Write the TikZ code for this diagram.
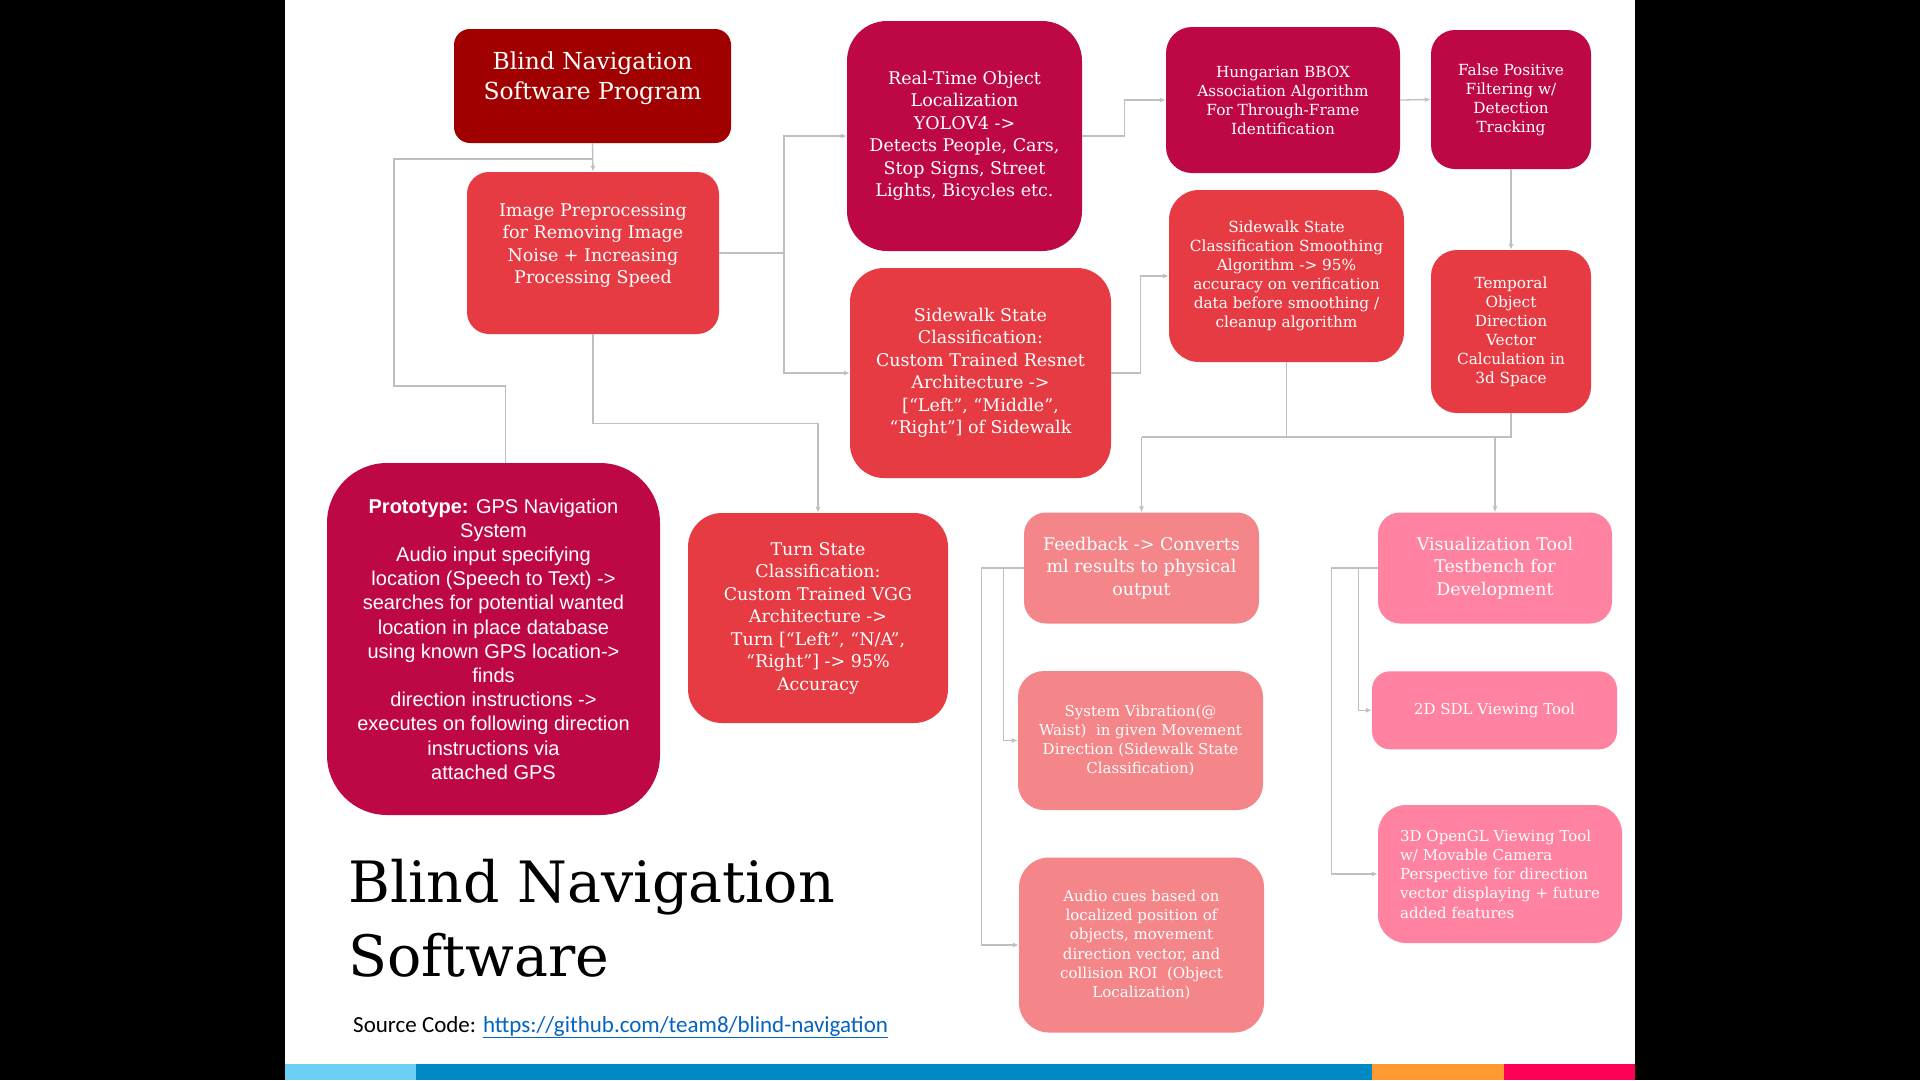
\documentclass[tikz,border=0pt]{standalone}
\usepackage{fontspec}
\setmainfont{DejaVu Serif}
\newfontfamily\protofont{Liberation Sans}
\newfontfamily\codefont{Carlito}
\usetikzlibrary{arrows.meta}

\definecolor{progred}{RGB}{160,0,0}
\definecolor{crimson}{RGB}{190,8,70}
\definecolor{boxred}{RGB}{231,59,67}
\definecolor{salmon}{RGB}{244,133,137}
\definecolor{rosepink}{RGB}{255,130,160}
\definecolor{linkblue}{RGB}{5,99,193}
\definecolor{barlight}{RGB}{109,207,246}
\definecolor{barblue}{RGB}{0,136,194}
\definecolor{barorange}{RGB}{255,153,51}
\definecolor{barred}{RGB}{255,0,85}

\begin{document}
\begin{tikzpicture}[x=1pt, y=-1pt,
	blk/.style={text=white, align=center, inner sep=0pt, rounded corners=#1},
	blk/.default=22pt,
	fbig/.style={font=\fontsize{17.5}{22.5}\selectfont},
	fmid/.style={font=\fontsize{15.3}{19}\selectfont},
	fsml/.style={font=\fontsize{15}{19.2}\selectfont},
	conn/.style={draw=gray!50, line width=1.3pt},
	arr/.style={conn, -{Latex[length=6pt,width=5pt]}}]
	\useasboundingbox (0,0) rectangle (1920,1080);
	\fill[black] (0,0) rectangle (1920,1080);
	\fill[white] (285,0) rectangle (1635,1064);
	\fill[barlight] (285,1064) rectangle (416,1080);
	\fill[barblue] (416,1064) rectangle (1372,1080);
	\fill[barorange] (1372,1064) rectangle (1504,1080);
	\fill[barred] (1504,1064) rectangle (1635,1080);

	\node[blk=16pt, fill=progred, font=\fontsize{23.4}{29.5}\selectfont, text depth=21pt, minimum width=277pt, minimum height=114pt] (prog) at (592.5,86) {Blind Navigation\\Software Program};
	\node[blk, fill=boxred, fbig, text depth=19pt, minimum width=252pt, minimum height=162pt] (prep) at (593,253) {Image Preprocessing\\for Removing Image\\Noise + Increasing\\Processing Speed};
	\node[blk=40pt, fill=crimson, fbig, minimum width=235pt, minimum height=230pt] (rto) at (964.5,136) {Real-Time Object\\Localization\\YOLOV4 ->\\Detects People, Cars,\\Stop Signs, Street\\Lights, Bicycles etc.};
	\node[blk=34pt, fill=boxred, fbig, minimum width=261pt, minimum height=210pt] (swc) at (980.5,373) {Sidewalk State\\Classification:\\Custom Trained Resnet\\Architecture ->\\{[}“Left”, “Middle”,\\“Right”] of Sidewalk};
	\node[blk=26pt, fill=crimson, fmid, minimum width=234pt, minimum height=146pt] (hung) at (1283,100) {Hungarian BBOX\\Association Algorithm\\For Through-Frame\\Identification};
	\node[blk=24pt, fill=crimson, fmid, minimum width=160pt, minimum height=139pt] (fpf) at (1511,99.5) {False Positive\\Filtering w/\\Detection\\Tracking};
	\node[blk=30pt, fill=boxred, fmid, minimum width=235pt, minimum height=172pt] (smooth) at (1286.5,276) {Sidewalk State\\Classification Smoothing\\Algorithm -> 95\%\\accuracy on verification\\data before smoothing /\\cleanup algorithm};
	\node[blk=26pt, fill=boxred, fmid, minimum width=160pt, minimum height=163pt] (temporal) at (1511,331.5) {Temporal\\Object\\Direction\\Vector\\Calculation in\\3d Space};
	\node[blk=60pt, fill=crimson, font={\protofont\fontsize{20}{24.2}\selectfont}, minimum width=333pt, minimum height=352pt] (proto) at (493.5,639) {\textbf{Prototype:} GPS Navigation\\System\\Audio input specifying\\location (Speech to Text) ->\\searches for potential wanted\\location in place database\\using known GPS location->\\finds\\direction instructions ->\\executes on following direction\\instructions via\\attached GPS};
	\node[blk=34pt, fill=boxred, fbig, minimum width=260pt, minimum height=210pt] (turn) at (818,618) {Turn State\\Classification:\\Custom Trained VGG\\Architecture ->\\Turn [“Left”, “N/A”,\\“Right”] -> 95\%\\Accuracy};
	\node[blk=22pt, fill=salmon, fbig, minimum width=235pt, minimum height=111pt] (feed) at (1141.5,568) {Feedback -> Converts\\ml results to physical\\output};
	\node[blk=22pt, fill=rosepink, fbig, minimum width=234pt, minimum height=111pt] (vis) at (1495,568) {Visualization Tool\\Testbench for\\Development};
	\node[blk=26pt, fill=salmon, fsml, minimum width=245pt, minimum height=139pt] (vib) at (1140.5,740.5) {System Vibration(@\\Waist)~ in given Movement\\Direction (Sidewalk State\\Classification)};
	\node[blk=18pt, fill=rosepink, fsml, minimum width=245pt, minimum height=78pt] (sdl) at (1494.5,710.3) {2D SDL Viewing Tool};
	\node[blk=30pt, fill=salmon, fsml, minimum width=245pt, minimum height=175pt] (audio) at (1141.5,945) {Audio cues based on\\localized position of\\objects, movement\\direction vector, and\\collision ROI~ (Object\\Localization)};
	\node[blk=28pt, fill=rosepink, fsml, align=left, minimum width=244pt, minimum height=138pt] (ogl) at (1500,874) {3D OpenGL Viewing Tool\\w/ Movable Camera\\Perspective for direction\\vector displaying + future\\added features};

	\node[anchor=north west, inner sep=0pt, align=left, font=\fontsize{57}{74}\selectfont] (title) at (348,859) {Blind Navigation\\Software};
	\node[anchor=base west, inner sep=0pt, font={\codefont\fontsize{23}{28}\selectfont}] (src) at (353,1032) {Source Code: \textcolor{linkblue}{\underline{https://github.com/team8/blind-navigation}}};

	\coordinate (j1) at (593,159);
	\coordinate (j2) at (784,253);
	\coordinate (busL) at (1141.5,437);
	\coordinate (busR) at (1511,437);
	\draw[arr] (prog.south) -- (prep.north);
	\draw[conn] (j1) -| (394,386) -| ([xshift=12pt]proto.north);
	\draw[conn] (prep.east) -- (j2);
	\draw[arr] (j2) |- (rto.west);
	\draw[arr] (j2) |- (swc.west);
	\draw[arr] (prep.south) -- ++(0,89) -| (turn.north);
	\draw[arr] (rto.east) -- ++(42,0) |- (hung.west);
	\draw[arr] (hung.east) -- (fpf.west);
	\draw[arr] (fpf.south) -- (temporal.north);
	\draw[arr] (swc.east) -- ++(29,0) |- (smooth.west);
	\draw[conn] (smooth.south) -- (smooth.south |- busL);
	\draw[conn] (temporal.south) -- (busR) -- (busL);
	\draw[arr] (busL) -- (feed.north);
	\draw[arr] (vis.north |- busL) -- (vis.north);
	\draw[arr] (feed.west) -- ++(-20,0) |- (vib.west);
	\draw[arr] (feed.west) -- ++(-42,0) |- (audio.west);
	\draw[arr] (vis.west) -- ++(-19,0) |- (sdl.west);
	\draw[arr] (vis.west) -- ++(-46,0) |- (ogl.west);
\end{tikzpicture}
\end{document}
